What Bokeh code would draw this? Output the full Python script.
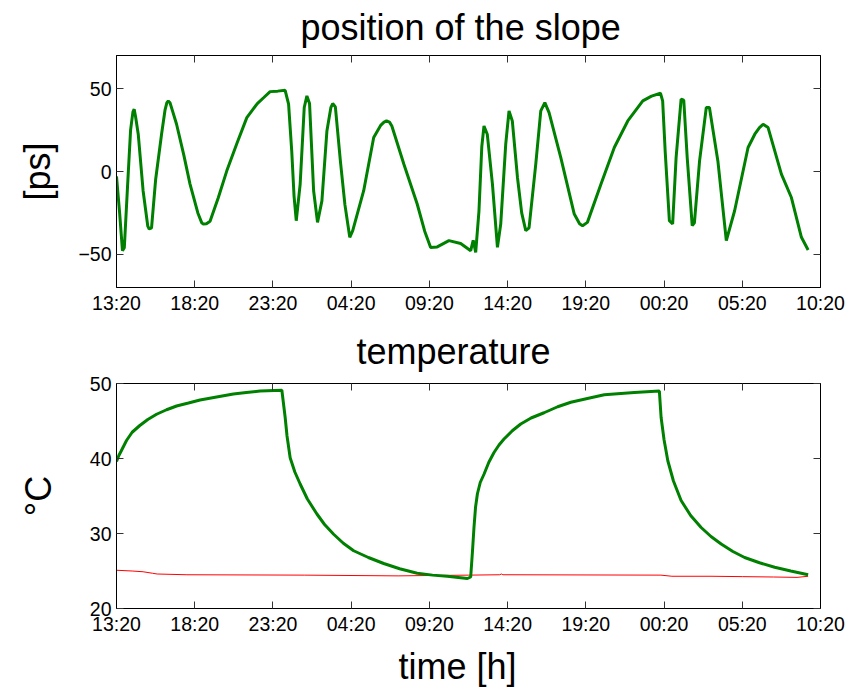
from bokeh.plotting import figure
from bokeh.models import Range1d, LinearAxis, FixedTicker, Title
from bokeh.layouts import column
from bokeh.embed import file_html
from bokeh.resources import INLINE

# ---------------- data (time in hours since 13:20) ----------------
tick_hours = [0, 5, 10, 15, 20, 25, 30, 35, 40, 45]
tick_labels = ["13:20", "18:20", "23:20", "04:20", "09:20",
               "14:20", "19:20", "00:20", "05:20", "10:20"]

slope_t = [0, 0.2, 0.38, 0.5, 0.7, 0.9, 1.05, 1.13, 1.22, 1.39, 1.7, 2.0, 2.09, 2.24, 2.5,
           2.88, 3.1, 3.22, 3.31, 3.42, 3.6, 3.84, 4.3, 4.7, 5.2, 5.45, 5.55, 5.75, 5.98,
           6.5, 7.05, 7.7, 8.33, 9.0, 9.4, 9.82, 10.3, 10.78, 11.0, 11.2, 11.35, 11.49,
           11.74, 12.0, 12.17, 12.34, 12.6, 12.85, 13.13, 13.45, 13.7, 13.82, 13.99,
           14.31, 14.6, 14.91, 15.1, 15.8, 16.44, 16.9, 17.1, 17.26, 17.45, 17.6, 18.37,
           19.22, 19.7, 20.08, 20.5, 21.25, 22.0, 22.64, 22.8, 22.96, 23.17, 23.35,
           23.49, 23.7, 24.03, 24.35, 24.56, 24.88, 25.09, 25.3, 25.63, 25.9, 26.16,
           26.37, 26.8, 27.12, 27.38, 27.65, 28.4, 29.26, 29.6, 29.79, 30.1, 30.97,
           31.82, 32.68, 33.64, 34.2, 34.77, 34.91, 35.07, 35.34, 35.55, 35.77, 36.09,
           36.26, 36.48, 36.8, 36.94, 37.27, 37.7, 37.9, 38.44, 38.98, 39.51, 40.37,
           40.8, 41.1, 41.33, 41.65, 42.5, 43.14, 43.78, 44.21]
slope_ps = [-3, -25, -47.8, -46, -10, 25, 36, 37.6, 33, 22.5, -11.6, -33, -34.7, -34, -5,
            22.5, 37, 41.5, 42.6, 41.5, 36, 28.5, 10, -7.6, -25, -31, -31.7, -31.5, -30,
            -16, 0.4, 17, 32.5, 41, 44.5, 48.2, 48.5, 49, 40.6, 12.5, -15, -29.7,
            -7.6, 38.6, 45.6, 41, -11.6, -30.7, -17.7, 24.5, 38.5, 41, 39,
            6.4, -20, -39.7, -35.7, -11.6, 20.5, 28, 29.8, 30.5, 29.8, 27.5, 4.4,
            -19.6, -36, -45.8, -45.5, -41.7, -43.4, -47.8, -41.5, -48.8, -23.7, 15,
            27.5, 22.5, -7.6, -45.8, -31.7, 16.5, 36.6, 30.5, -3.6, -25, -35.7,
            -34, 4.4, 36.6, 41.6, 35.5, 8.4, -25.7, -31.5, -32.7, -30.7, -7.6,
            14.5, 30.5, 42.6, 45.5, 47.2, 42.6, 12.5, -29.7, -31.7, 8.4, 43.6,
            43, 8.4, -32.7, -31, 6.4, 38.6, 38.6, 6.4, -41.7, -23.7, 14.5,
            22.5, 26.5, 28.5, 26.5, -1.6, -15.7, -39.7, -47.4]

temp_t = [0, 0.15, 0.3, 0.64, 1.0, 1.49, 2.0, 2.56, 3.2, 3.84, 4.6, 5.34, 6.4, 7.47, 8.3,
          9.18, 10.57, 10.78, 10.9, 11.1, 11.4, 11.74, 12.2, 12.81, 13.3, 13.88, 14.5,
          15.16, 16.1, 17.08, 18.1, 19.22, 20.2, 21.14, 22.43, 22.64, 22.75, 22.85,
          22.95, 23.07, 23.25, 23.49, 23.8, 24.13, 24.45, 24.77, 25.3, 25.84, 26.5,
          27.33, 28.2, 29.04, 30.1, 31.18, 33.1, 34.7, 34.81, 35.0, 35.24, 35.6, 36.09,
          36.7, 37.37, 38.0, 38.65, 39.4, 40.15, 41.1, 42.07, 43.1, 44.21]
temp_sample = [39.6, 40.4, 41, 42.4, 43.5, 44.4, 45.2, 45.9, 46.5, 47.0, 47.4, 47.8, 48.2,
               48.6, 48.8, 49.0, 49.1, 45.5, 43, 40.1, 38.2, 36.6, 34.6, 32.6, 31.2,
               29.9, 28.7, 27.7, 26.8, 26.0, 25.3, 24.7, 24.45, 24.3, 24.0, 24.2, 27.5,
               30.8, 33.5, 35.3, 36.8, 37.9, 39.5, 40.8, 41.8, 42.6, 43.7, 44.6, 45.4,
               46.1, 46.9, 47.5, 48.0, 48.5, 48.8, 49.0, 45.5, 42.5, 39.7, 37.0, 34.4,
               32.4, 30.8, 29.6, 28.6, 27.6, 26.8, 26.1, 25.5, 25.0, 24.5]

amb_t = [0, 1.0, 1.7, 2.3, 2.6, 4.5, 12, 18, 20, 22.5, 24.5, 24.6, 24.7, 34.8, 35.5,
         38, 40, 42, 43.5, 44.21]
amb_temp = [25.1, 25.0, 24.9, 24.7, 24.6, 24.5, 24.45, 24.35, 24.4, 24.45, 24.5, 24.6,
            24.5, 24.45, 24.3, 24.3, 24.25, 24.2, 24.15, 24.3]

FONT = "Liberation Sans"
GREEN = "#008000"
RED = "#ff0000"


def hidden_axis(ticker, ticks):
    return LinearAxis(ticker=ticker,
                      major_label_overrides={t: "" for t in ticks},
                      major_label_text_color=None,
                      major_tick_in=7, major_tick_out=0, minor_tick_line_color=None,
                      major_tick_line_color="#333333", axis_line_color="black",
                      major_label_standoff=0)


def style(p, yticks, title_standoff, title_offset):
    p.xgrid.visible = False
    p.ygrid.visible = False
    p.outline_line_color = "black"
    p.outline_line_width = 1
    p.title.text_font = FONT
    p.title.text_font_size = "36px"
    p.title.text_font_style = "normal"
    p.title.text_color = "black"
    p.title.text_line_height = 1.0
    p.title.vertical_align = "top"
    p.title.align = "left"
    p.title.offset = title_offset
    p.title.standoff = title_standoff

    xt = FixedTicker(ticks=tick_hours)
    yt = FixedTicker(ticks=yticks)
    overrides = {h: lab for h, lab in zip(tick_hours, tick_labels)}

    for ax in p.xaxis:
        ax.ticker = xt
        ax.major_label_overrides = overrides
        ax.major_label_standoff = 4
    for ax in p.yaxis:
        ax.ticker = yt
        ax.major_label_standoff = 5
    for ax in list(p.xaxis) + list(p.yaxis):
        ax.major_tick_in = 7
        ax.major_tick_out = 0
        ax.minor_tick_line_color = None
        ax.major_tick_line_color = "#333333"
        ax.axis_line_color = "black"
        ax.major_label_text_font = FONT
        ax.major_label_text_font_size = "19.5px"
        ax.major_label_text_color = "black"
        ax.axis_label_text_font = FONT
        ax.axis_label_text_font_size = "36px"
        ax.axis_label_text_font_style = "normal"
        ax.axis_label_text_color = "black"

    p.add_layout(hidden_axis(xt, tick_hours), "above")
    p.add_layout(hidden_axis(yt, yticks), "right")


p1 = figure(width=845, height=320, output_backend="svg", toolbar_location=None,
            title="position of the slope",
            x_range=Range1d(0, 45), y_range=Range1d(-70, 70),
            min_border_left=116, min_border_right=25, min_border_top=55,
            min_border_bottom=33)
p1.line(slope_t, slope_ps, line_color=GREEN, line_width=3)
p1.yaxis.axis_label = "[ps]"
p1.yaxis.axis_label_standoff = 17
style(p1, [-50, 0, 50], 11, 184)

p2 = figure(width=845, height=378, output_backend="svg", toolbar_location=None,
            title="temperature",
            x_range=Range1d(0, 45), y_range=Range1d(20, 50),
            min_border_left=116, min_border_right=25, min_border_top=63,
            min_border_bottom=90)
p2.line(amb_t, amb_temp, line_color=RED, line_width=1)
p2.line(temp_t, temp_sample, line_color=GREEN, line_width=3)
p2.yaxis.axis_label = "°C"
p2.yaxis.axis_label_standoff = 28
style(p2, [20, 30, 40, 50], 19, 240)
xlab = Title(text="time [h]", align="left", offset=282, text_font=FONT,
             text_font_size="36px", text_font_style="normal", text_color="black",
             text_line_height=1.0, vertical_align="bottom", standoff=13)
p2.add_layout(xlab, "below")

layout = column(p1, p2, spacing=0)

with open("out.html", "w") as f:
    f.write(file_html(layout, INLINE))
